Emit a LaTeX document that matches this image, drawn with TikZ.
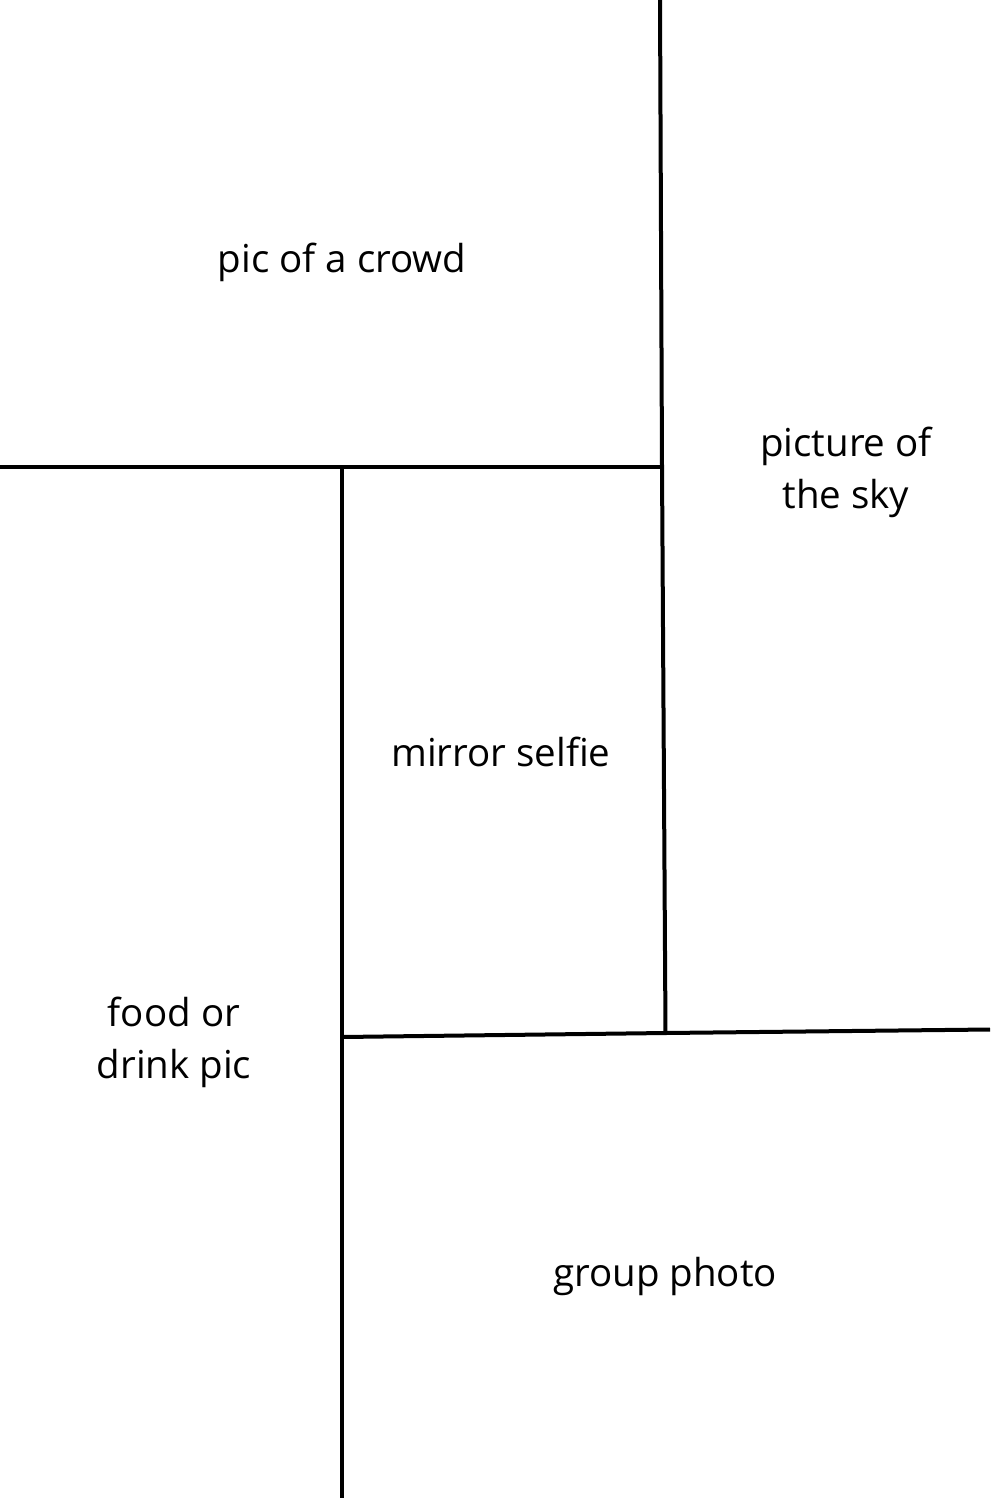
\documentclass[tikz,border=0pt]{standalone}
\usepackage{fontspec}
\setmainfont{Open Sans}
\begin{document}
\begin{tikzpicture}[x=1pt,y=-1pt,
  divider/.style={line width=4pt,black},
  label/.style={font=\fontsize{38.5}{52}\selectfont,align=center,text=black,inner sep=0pt}]
\useasboundingbox[fill=white] (0,0) rectangle (999,1498);
% coordinates
\coordinate (rtop) at (660,0);
\coordinate (rmid) at (662,467);
\coordinate (rbot) at (665.5,1033);
\coordinate (hl) at (0,467);
\coordinate (ltop) at (342,467);
\coordinate (lmid) at (342,1037);
\coordinate (lbot) at (342,1498);
\coordinate (br) at (990,1029.5);
% lines
\draw[divider] (rtop) -- (rmid) -- (rbot);
\draw[divider] (hl) -- (rmid);
\draw[divider] (ltop) -- (lbot);
\draw[divider] (lmid) -- (rbot) -- (br);
% labels
\node[label] (crowd) at (342,262) {pic of a crowd};
\node[label] (sky) at (846,472) {picture of\\the sky};
\node[label] (mirror) at (501,752) {mirror selfie};
\node[label] (food) at (174,1042) {food or\\drink pic};
\node[label] (group) at (665,1276) {group photo};
\end{tikzpicture}
\end{document}
